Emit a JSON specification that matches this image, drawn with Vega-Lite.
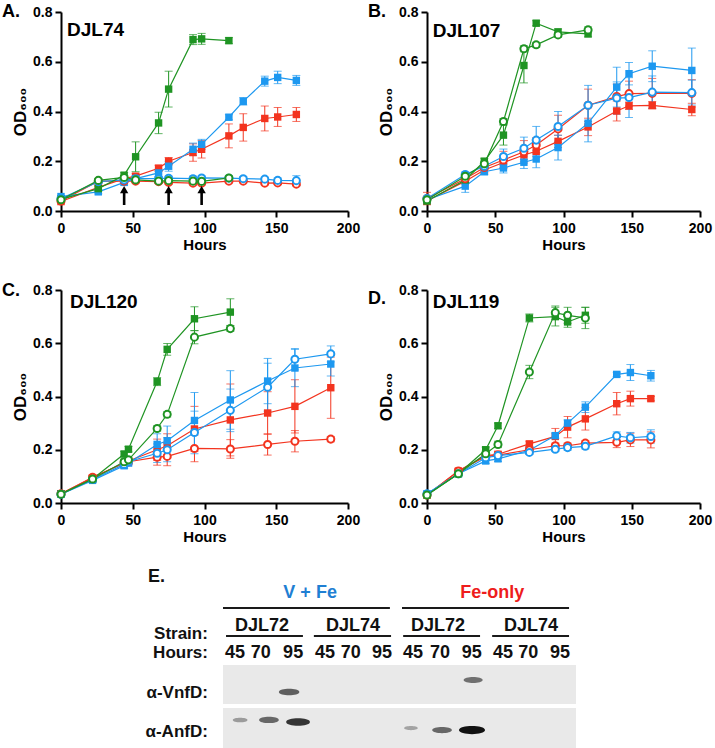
{
"$schema":"https://vega.github.io/schema/vega-lite/v6.json",
"autosize":{"type":"none"},
"padding":{"left":61,"top":12,"right":654,"bottom":736},
"background":"white",
"columns":2,
"bounds":"flush",
"spacing":{"row":79,"column":79},
"datasets":{"growth":[
{"p":"A","m":"Fe-only","s":"DJL72","h":0,"od":0.038,"e":0.005},{"p":"A","m":"Fe-only","s":"DJL72","h":26,"od":0.095,"e":0.01},{"p":"A","m":"Fe-only","s":"DJL72","h":44,"od":0.13,"e":0.01},{"p":"A","m":"Fe-only","s":"DJL72","h":52,"od":0.14,"e":0.01},{"p":"A","m":"Fe-only","s":"DJL72","h":68,"od":0.172,"e":0.012},{"p":"A","m":"Fe-only","s":"DJL72","h":75,"od":0.2,"e":0.015},{"p":"A","m":"Fe-only","s":"DJL72","h":92,"od":0.235,"e":0.035},{"p":"A","m":"Fe-only","s":"DJL72","h":98,"od":0.248,"e":0.035},{"p":"A","m":"Fe-only","s":"DJL72","h":117,"od":0.302,"e":0.048},{"p":"A","m":"Fe-only","s":"DJL72","h":127,"od":0.336,"e":0.055},{"p":"A","m":"Fe-only","s":"DJL72","h":142,"od":0.372,"e":0.05},{"p":"A","m":"Fe-only","s":"DJL72","h":151,"od":0.378,"e":0.038},{"p":"A","m":"Fe-only","s":"DJL72","h":164,"od":0.388,"e":0.028},
{"p":"A","m":"Fe-only","s":"DJL74","h":0,"od":0.04,"e":0.006},{"p":"A","m":"Fe-only","s":"DJL74","h":26,"od":0.12,"e":0.006},{"p":"A","m":"Fe-only","s":"DJL74","h":44,"od":0.12,"e":0.006},{"p":"A","m":"Fe-only","s":"DJL74","h":52,"od":0.12,"e":0.006},{"p":"A","m":"Fe-only","s":"DJL74","h":68,"od":0.118,"e":0.006},{"p":"A","m":"Fe-only","s":"DJL74","h":75,"od":0.115,"e":0.006},{"p":"A","m":"Fe-only","s":"DJL74","h":92,"od":0.112,"e":0.006},{"p":"A","m":"Fe-only","s":"DJL74","h":98,"od":0.112,"e":0.006},{"p":"A","m":"Fe-only","s":"DJL74","h":117,"od":0.12,"e":0.006},{"p":"A","m":"Fe-only","s":"DJL74","h":127,"od":0.12,"e":0.006},{"p":"A","m":"Fe-only","s":"DJL74","h":142,"od":0.112,"e":0.006},{"p":"A","m":"Fe-only","s":"DJL74","h":151,"od":0.113,"e":0.006},{"p":"A","m":"Fe-only","s":"DJL74","h":164,"od":0.108,"e":0.006},
{"p":"A","m":"V + Fe","s":"DJL72","h":0,"od":0.058,"e":0.005},{"p":"A","m":"V + Fe","s":"DJL72","h":26,"od":0.077,"e":0.008},{"p":"A","m":"V + Fe","s":"DJL72","h":44,"od":0.115,"e":0.01},{"p":"A","m":"V + Fe","s":"DJL72","h":52,"od":0.13,"e":0.012},{"p":"A","m":"V + Fe","s":"DJL72","h":68,"od":0.153,"e":0.015},{"p":"A","m":"V + Fe","s":"DJL72","h":75,"od":0.18,"e":0.02},{"p":"A","m":"V + Fe","s":"DJL72","h":92,"od":0.248,"e":0.025},{"p":"A","m":"V + Fe","s":"DJL72","h":98,"od":0.268,"e":0.02},{"p":"A","m":"V + Fe","s":"DJL72","h":117,"od":0.377,"e":0.01},{"p":"A","m":"V + Fe","s":"DJL72","h":127,"od":0.441,"e":0.015},{"p":"A","m":"V + Fe","s":"DJL72","h":142,"od":0.522,"e":0.02},{"p":"A","m":"V + Fe","s":"DJL72","h":151,"od":0.537,"e":0.025},{"p":"A","m":"V + Fe","s":"DJL72","h":164,"od":0.525,"e":0.02},
{"p":"A","m":"V + Fe","s":"DJL74","h":0,"od":0.05,"e":0.005},{"p":"A","m":"V + Fe","s":"DJL74","h":26,"od":0.118,"e":0.006},{"p":"A","m":"V + Fe","s":"DJL74","h":44,"od":0.125,"e":0.008},{"p":"A","m":"V + Fe","s":"DJL74","h":52,"od":0.13,"e":0.01},{"p":"A","m":"V + Fe","s":"DJL74","h":68,"od":0.13,"e":0.008},{"p":"A","m":"V + Fe","s":"DJL74","h":75,"od":0.132,"e":0.008},{"p":"A","m":"V + Fe","s":"DJL74","h":92,"od":0.13,"e":0.01},{"p":"A","m":"V + Fe","s":"DJL74","h":98,"od":0.133,"e":0.008},{"p":"A","m":"V + Fe","s":"DJL74","h":117,"od":0.132,"e":0.008},{"p":"A","m":"V + Fe","s":"DJL74","h":127,"od":0.13,"e":0.008},{"p":"A","m":"V + Fe","s":"DJL74","h":142,"od":0.128,"e":0.008},{"p":"A","m":"V + Fe","s":"DJL74","h":151,"od":0.123,"e":0.01},{"p":"A","m":"V + Fe","s":"DJL74","h":164,"od":0.122,"e":0.02},
{"p":"A","m":"Mo + Fe","s":"DJL72","h":0,"od":0.047,"e":0.005},{"p":"A","m":"Mo + Fe","s":"DJL72","h":26,"od":0.09,"e":0.01},{"p":"A","m":"Mo + Fe","s":"DJL72","h":44,"od":0.144,"e":0.01},{"p":"A","m":"Mo + Fe","s":"DJL72","h":52,"od":0.218,"e":0.06},{"p":"A","m":"Mo + Fe","s":"DJL72","h":68,"od":0.354,"e":0.043},{"p":"A","m":"Mo + Fe","s":"DJL72","h":75,"od":0.49,"e":0.072},{"p":"A","m":"Mo + Fe","s":"DJL72","h":92,"od":0.689,"e":0.02},{"p":"A","m":"Mo + Fe","s":"DJL72","h":98,"od":0.692,"e":0.022},{"p":"A","m":"Mo + Fe","s":"DJL72","h":117,"od":0.685,"e":0.012},
{"p":"A","m":"Mo + Fe","s":"DJL74","h":0,"od":0.045,"e":0.005},{"p":"A","m":"Mo + Fe","s":"DJL74","h":26,"od":0.123,"e":0.008},{"p":"A","m":"Mo + Fe","s":"DJL74","h":44,"od":0.135,"e":0.008},{"p":"A","m":"Mo + Fe","s":"DJL74","h":52,"od":0.125,"e":0.01},{"p":"A","m":"Mo + Fe","s":"DJL74","h":68,"od":0.12,"e":0.008},{"p":"A","m":"Mo + Fe","s":"DJL74","h":75,"od":0.122,"e":0.008},{"p":"A","m":"Mo + Fe","s":"DJL74","h":92,"od":0.12,"e":0.008},{"p":"A","m":"Mo + Fe","s":"DJL74","h":98,"od":0.119,"e":0.008},{"p":"A","m":"Mo + Fe","s":"DJL74","h":117,"od":0.133,"e":0.008},
{"p":"B","m":"Fe-only","s":"DJL72","h":0,"od":0.04,"e":0.008},{"p":"B","m":"Fe-only","s":"DJL72","h":28,"od":0.12,"e":0.01},{"p":"B","m":"Fe-only","s":"DJL72","h":42,"od":0.165,"e":0.012},{"p":"B","m":"Fe-only","s":"DJL72","h":56,"od":0.195,"e":0.02},{"p":"B","m":"Fe-only","s":"DJL72","h":71,"od":0.225,"e":0.025},{"p":"B","m":"Fe-only","s":"DJL72","h":80,"od":0.24,"e":0.02},{"p":"B","m":"Fe-only","s":"DJL72","h":96,"od":0.28,"e":0.025},{"p":"B","m":"Fe-only","s":"DJL72","h":118,"od":0.338,"e":0.035},{"p":"B","m":"Fe-only","s":"DJL72","h":139,"od":0.402,"e":0.04},{"p":"B","m":"Fe-only","s":"DJL72","h":148,"od":0.423,"e":0.015},{"p":"B","m":"Fe-only","s":"DJL72","h":165,"od":0.425,"e":0.015},{"p":"B","m":"Fe-only","s":"DJL72","h":194,"od":0.408,"e":0.025},
{"p":"B","m":"Fe-only","s":"DJL107","h":0,"od":0.05,"e":0.025},{"p":"B","m":"Fe-only","s":"DJL107","h":28,"od":0.13,"e":0.01},{"p":"B","m":"Fe-only","s":"DJL107","h":42,"od":0.175,"e":0.01},{"p":"B","m":"Fe-only","s":"DJL107","h":56,"od":0.205,"e":0.035},{"p":"B","m":"Fe-only","s":"DJL107","h":71,"od":0.238,"e":0.045},{"p":"B","m":"Fe-only","s":"DJL107","h":80,"od":0.265,"e":0.03},{"p":"B","m":"Fe-only","s":"DJL107","h":96,"od":0.33,"e":0.055},{"p":"B","m":"Fe-only","s":"DJL107","h":118,"od":0.425,"e":0.065},{"p":"B","m":"Fe-only","s":"DJL107","h":139,"od":0.46,"e":0.05},{"p":"B","m":"Fe-only","s":"DJL107","h":148,"od":0.472,"e":0.05},{"p":"B","m":"Fe-only","s":"DJL107","h":165,"od":0.473,"e":0.06},{"p":"B","m":"Fe-only","s":"DJL107","h":194,"od":0.473,"e":0.055},
{"p":"B","m":"V + Fe","s":"DJL72","h":0,"od":0.045,"e":0.008},{"p":"B","m":"V + Fe","s":"DJL72","h":28,"od":0.1,"e":0.025},{"p":"B","m":"V + Fe","s":"DJL72","h":42,"od":0.158,"e":0.012},{"p":"B","m":"V + Fe","s":"DJL72","h":56,"od":0.173,"e":0.02},{"p":"B","m":"V + Fe","s":"DJL72","h":71,"od":0.196,"e":0.025},{"p":"B","m":"V + Fe","s":"DJL72","h":80,"od":0.209,"e":0.035},{"p":"B","m":"V + Fe","s":"DJL72","h":96,"od":0.255,"e":0.05},{"p":"B","m":"V + Fe","s":"DJL72","h":118,"od":0.353,"e":0.075},{"p":"B","m":"V + Fe","s":"DJL72","h":139,"od":0.498,"e":0.08},{"p":"B","m":"V + Fe","s":"DJL72","h":148,"od":0.552,"e":0.045},{"p":"B","m":"V + Fe","s":"DJL72","h":165,"od":0.582,"e":0.062},{"p":"B","m":"V + Fe","s":"DJL72","h":194,"od":0.565,"e":0.09},
{"p":"B","m":"V + Fe","s":"DJL107","h":0,"od":0.05,"e":0.005},{"p":"B","m":"V + Fe","s":"DJL107","h":28,"od":0.147,"e":0.01},{"p":"B","m":"V + Fe","s":"DJL107","h":42,"od":0.18,"e":0.01},{"p":"B","m":"V + Fe","s":"DJL107","h":56,"od":0.219,"e":0.03},{"p":"B","m":"V + Fe","s":"DJL107","h":71,"od":0.252,"e":0.045},{"p":"B","m":"V + Fe","s":"DJL107","h":80,"od":0.285,"e":0.055},{"p":"B","m":"V + Fe","s":"DJL107","h":96,"od":0.34,"e":0.06},{"p":"B","m":"V + Fe","s":"DJL107","h":118,"od":0.425,"e":0.08},{"p":"B","m":"V + Fe","s":"DJL107","h":139,"od":0.454,"e":0.065},{"p":"B","m":"V + Fe","s":"DJL107","h":148,"od":0.456,"e":0.08},{"p":"B","m":"V + Fe","s":"DJL107","h":165,"od":0.478,"e":0.065},{"p":"B","m":"V + Fe","s":"DJL107","h":194,"od":0.476,"e":0.05},
{"p":"B","m":"Mo + Fe","s":"DJL72","h":0,"od":0.04,"e":0.005},{"p":"B","m":"Mo + Fe","s":"DJL72","h":28,"od":0.125,"e":0.01},{"p":"B","m":"Mo + Fe","s":"DJL72","h":42,"od":0.2,"e":0.012},{"p":"B","m":"Mo + Fe","s":"DJL72","h":56,"od":0.305,"e":0.04},{"p":"B","m":"Mo + Fe","s":"DJL72","h":71,"od":0.585,"e":0.07},{"p":"B","m":"Mo + Fe","s":"DJL72","h":80,"od":0.755,"e":0.01},{"p":"B","m":"Mo + Fe","s":"DJL72","h":96,"od":0.72,"e":0.012},{"p":"B","m":"Mo + Fe","s":"DJL72","h":118,"od":0.712,"e":0.012},
{"p":"B","m":"Mo + Fe","s":"DJL107","h":0,"od":0.045,"e":0.005},{"p":"B","m":"Mo + Fe","s":"DJL107","h":28,"od":0.14,"e":0.01},{"p":"B","m":"Mo + Fe","s":"DJL107","h":42,"od":0.19,"e":0.01},{"p":"B","m":"Mo + Fe","s":"DJL107","h":56,"od":0.36,"e":0.012},{"p":"B","m":"Mo + Fe","s":"DJL107","h":71,"od":0.652,"e":0.012},{"p":"B","m":"Mo + Fe","s":"DJL107","h":80,"od":0.668,"e":0.01},{"p":"B","m":"Mo + Fe","s":"DJL107","h":96,"od":0.708,"e":0.01},{"p":"B","m":"Mo + Fe","s":"DJL107","h":118,"od":0.728,"e":0.012},
{"p":"C","m":"Fe-only","s":"DJL72","h":0,"od":0.035,"e":0.004},{"p":"C","m":"Fe-only","s":"DJL72","h":22,"od":0.095,"e":0.008},{"p":"C","m":"Fe-only","s":"DJL72","h":44,"od":0.15,"e":0.01},{"p":"C","m":"Fe-only","s":"DJL72","h":47,"od":0.158,"e":0.01},{"p":"C","m":"Fe-only","s":"DJL72","h":67,"od":0.2,"e":0.04},{"p":"C","m":"Fe-only","s":"DJL72","h":74,"od":0.215,"e":0.045},{"p":"C","m":"Fe-only","s":"DJL72","h":93,"od":0.278,"e":0.085},{"p":"C","m":"Fe-only","s":"DJL72","h":118,"od":0.312,"e":0.135},{"p":"C","m":"Fe-only","s":"DJL72","h":144,"od":0.338,"e":0.08},{"p":"C","m":"Fe-only","s":"DJL72","h":163,"od":0.363,"e":0.1},{"p":"C","m":"Fe-only","s":"DJL72","h":188,"od":0.433,"e":0.115},
{"p":"C","m":"Fe-only","s":"DJL120","h":0,"od":0.035,"e":0.004},{"p":"C","m":"Fe-only","s":"DJL120","h":22,"od":0.097,"e":0.008},{"p":"C","m":"Fe-only","s":"DJL120","h":44,"od":0.15,"e":0.01},{"p":"C","m":"Fe-only","s":"DJL120","h":47,"od":0.155,"e":0.01},{"p":"C","m":"Fe-only","s":"DJL120","h":67,"od":0.172,"e":0.03},{"p":"C","m":"Fe-only","s":"DJL120","h":74,"od":0.175,"e":0.035},{"p":"C","m":"Fe-only","s":"DJL120","h":93,"od":0.205,"e":0.05},{"p":"C","m":"Fe-only","s":"DJL120","h":118,"od":0.203,"e":0.035},{"p":"C","m":"Fe-only","s":"DJL120","h":144,"od":0.22,"e":0.04},{"p":"C","m":"Fe-only","s":"DJL120","h":163,"od":0.232,"e":0.04},{"p":"C","m":"Fe-only","s":"DJL120","h":188,"od":0.24,"e":0.01},
{"p":"C","m":"V + Fe","s":"DJL72","h":0,"od":0.033,"e":0.004},{"p":"C","m":"V + Fe","s":"DJL72","h":22,"od":0.085,"e":0.008},{"p":"C","m":"V + Fe","s":"DJL72","h":44,"od":0.14,"e":0.01},{"p":"C","m":"V + Fe","s":"DJL72","h":47,"od":0.15,"e":0.01},{"p":"C","m":"V + Fe","s":"DJL72","h":67,"od":0.22,"e":0.04},{"p":"C","m":"V + Fe","s":"DJL72","h":74,"od":0.234,"e":0.055},{"p":"C","m":"V + Fe","s":"DJL72","h":93,"od":0.31,"e":0.105},{"p":"C","m":"V + Fe","s":"DJL72","h":118,"od":0.387,"e":0.11},{"p":"C","m":"V + Fe","s":"DJL72","h":144,"od":0.458,"e":0.085},{"p":"C","m":"V + Fe","s":"DJL72","h":163,"od":0.507,"e":0.07},{"p":"C","m":"V + Fe","s":"DJL72","h":188,"od":0.522,"e":0.045},
{"p":"C","m":"V + Fe","s":"DJL120","h":0,"od":0.033,"e":0.004},{"p":"C","m":"V + Fe","s":"DJL120","h":22,"od":0.088,"e":0.008},{"p":"C","m":"V + Fe","s":"DJL120","h":44,"od":0.145,"e":0.01},{"p":"C","m":"V + Fe","s":"DJL120","h":47,"od":0.155,"e":0.01},{"p":"C","m":"V + Fe","s":"DJL120","h":67,"od":0.187,"e":0.035},{"p":"C","m":"V + Fe","s":"DJL120","h":74,"od":0.2,"e":0.045},{"p":"C","m":"V + Fe","s":"DJL120","h":93,"od":0.265,"e":0.08},{"p":"C","m":"V + Fe","s":"DJL120","h":118,"od":0.348,"e":0.08},{"p":"C","m":"V + Fe","s":"DJL120","h":144,"od":0.435,"e":0.09},{"p":"C","m":"V + Fe","s":"DJL120","h":163,"od":0.54,"e":0.04},{"p":"C","m":"V + Fe","s":"DJL120","h":188,"od":0.56,"e":0.03},
{"p":"C","m":"Mo + Fe","s":"DJL72","h":0,"od":0.035,"e":0.004},{"p":"C","m":"Mo + Fe","s":"DJL72","h":22,"od":0.09,"e":0.008},{"p":"C","m":"Mo + Fe","s":"DJL72","h":44,"od":0.184,"e":0.01},{"p":"C","m":"Mo + Fe","s":"DJL72","h":47,"od":0.202,"e":0.01},{"p":"C","m":"Mo + Fe","s":"DJL72","h":67,"od":0.456,"e":0.015},{"p":"C","m":"Mo + Fe","s":"DJL72","h":74,"od":0.577,"e":0.022},{"p":"C","m":"Mo + Fe","s":"DJL72","h":93,"od":0.692,"e":0.045},{"p":"C","m":"Mo + Fe","s":"DJL72","h":118,"od":0.717,"e":0.05},
{"p":"C","m":"Mo + Fe","s":"DJL120","h":0,"od":0.033,"e":0.004},{"p":"C","m":"Mo + Fe","s":"DJL120","h":22,"od":0.09,"e":0.008},{"p":"C","m":"Mo + Fe","s":"DJL120","h":44,"od":0.155,"e":0.01},{"p":"C","m":"Mo + Fe","s":"DJL120","h":47,"od":0.162,"e":0.01},{"p":"C","m":"Mo + Fe","s":"DJL120","h":67,"od":0.28,"e":0.01},{"p":"C","m":"Mo + Fe","s":"DJL120","h":74,"od":0.333,"e":0.01},{"p":"C","m":"Mo + Fe","s":"DJL120","h":93,"od":0.623,"e":0.025},{"p":"C","m":"Mo + Fe","s":"DJL120","h":118,"od":0.655,"e":0.01},
{"p":"D","m":"Fe-only","s":"DJL72","h":0,"od":0.03,"e":0.004},{"p":"D","m":"Fe-only","s":"DJL72","h":23,"od":0.12,"e":0.008},{"p":"D","m":"Fe-only","s":"DJL72","h":43,"od":0.178,"e":0.01},{"p":"D","m":"Fe-only","s":"DJL72","h":52,"od":0.183,"e":0.01},{"p":"D","m":"Fe-only","s":"DJL72","h":75,"od":0.222,"e":0.01},{"p":"D","m":"Fe-only","s":"DJL72","h":94,"od":0.25,"e":0.03},{"p":"D","m":"Fe-only","s":"DJL72","h":103,"od":0.285,"e":0.04},{"p":"D","m":"Fe-only","s":"DJL72","h":116,"od":0.316,"e":0.042},{"p":"D","m":"Fe-only","s":"DJL72","h":139,"od":0.373,"e":0.042},{"p":"D","m":"Fe-only","s":"DJL72","h":149,"od":0.392,"e":0.028},{"p":"D","m":"Fe-only","s":"DJL72","h":164,"od":0.392,"e":0.008},
{"p":"D","m":"Fe-only","s":"DJL119","h":0,"od":0.03,"e":0.004},{"p":"D","m":"Fe-only","s":"DJL119","h":23,"od":0.12,"e":0.008},{"p":"D","m":"Fe-only","s":"DJL119","h":43,"od":0.175,"e":0.01},{"p":"D","m":"Fe-only","s":"DJL119","h":52,"od":0.18,"e":0.01},{"p":"D","m":"Fe-only","s":"DJL119","h":75,"od":0.2,"e":0.01},{"p":"D","m":"Fe-only","s":"DJL119","h":94,"od":0.215,"e":0.01},{"p":"D","m":"Fe-only","s":"DJL119","h":103,"od":0.215,"e":0.01},{"p":"D","m":"Fe-only","s":"DJL119","h":116,"od":0.225,"e":0.01},{"p":"D","m":"Fe-only","s":"DJL119","h":139,"od":0.228,"e":0.02},{"p":"D","m":"Fe-only","s":"DJL119","h":149,"od":0.237,"e":0.025},{"p":"D","m":"Fe-only","s":"DJL119","h":164,"od":0.237,"e":0.03},
{"p":"D","m":"V + Fe","s":"DJL72","h":0,"od":0.035,"e":0.004},{"p":"D","m":"V + Fe","s":"DJL72","h":23,"od":0.11,"e":0.008},{"p":"D","m":"V + Fe","s":"DJL72","h":43,"od":0.158,"e":0.01},{"p":"D","m":"V + Fe","s":"DJL72","h":52,"od":0.166,"e":0.01},{"p":"D","m":"V + Fe","s":"DJL72","h":75,"od":0.198,"e":0.01},{"p":"D","m":"V + Fe","s":"DJL72","h":94,"od":0.253,"e":0.01},{"p":"D","m":"V + Fe","s":"DJL72","h":103,"od":0.3,"e":0.012},{"p":"D","m":"V + Fe","s":"DJL72","h":116,"od":0.36,"e":0.02},{"p":"D","m":"V + Fe","s":"DJL72","h":139,"od":0.483,"e":0.008},{"p":"D","m":"V + Fe","s":"DJL72","h":149,"od":0.49,"e":0.03},{"p":"D","m":"V + Fe","s":"DJL72","h":164,"od":0.478,"e":0.02},
{"p":"D","m":"V + Fe","s":"DJL119","h":0,"od":0.035,"e":0.004},{"p":"D","m":"V + Fe","s":"DJL119","h":23,"od":0.11,"e":0.008},{"p":"D","m":"V + Fe","s":"DJL119","h":43,"od":0.17,"e":0.01},{"p":"D","m":"V + Fe","s":"DJL119","h":52,"od":0.178,"e":0.01},{"p":"D","m":"V + Fe","s":"DJL119","h":75,"od":0.19,"e":0.008},{"p":"D","m":"V + Fe","s":"DJL119","h":94,"od":0.202,"e":0.008},{"p":"D","m":"V + Fe","s":"DJL119","h":103,"od":0.208,"e":0.01},{"p":"D","m":"V + Fe","s":"DJL119","h":116,"od":0.213,"e":0.01},{"p":"D","m":"V + Fe","s":"DJL119","h":139,"od":0.252,"e":0.015},{"p":"D","m":"V + Fe","s":"DJL119","h":149,"od":0.245,"e":0.02},{"p":"D","m":"V + Fe","s":"DJL119","h":164,"od":0.25,"e":0.025},
{"p":"D","m":"Mo + Fe","s":"DJL72","h":0,"od":0.03,"e":0.004},{"p":"D","m":"Mo + Fe","s":"DJL72","h":23,"od":0.11,"e":0.008},{"p":"D","m":"Mo + Fe","s":"DJL72","h":43,"od":0.2,"e":0.01},{"p":"D","m":"Mo + Fe","s":"DJL72","h":52,"od":0.29,"e":0.01},{"p":"D","m":"Mo + Fe","s":"DJL72","h":75,"od":0.695,"e":0.015},{"p":"D","m":"Mo + Fe","s":"DJL72","h":94,"od":0.7,"e":0.035},{"p":"D","m":"Mo + Fe","s":"DJL72","h":103,"od":0.68,"e":0.02},{"p":"D","m":"Mo + Fe","s":"DJL72","h":116,"od":0.705,"e":0.03},
{"p":"D","m":"Mo + Fe","s":"DJL119","h":0,"od":0.03,"e":0.004},{"p":"D","m":"Mo + Fe","s":"DJL119","h":23,"od":0.11,"e":0.008},{"p":"D","m":"Mo + Fe","s":"DJL119","h":43,"od":0.185,"e":0.01},{"p":"D","m":"Mo + Fe","s":"DJL119","h":52,"od":0.22,"e":0.012},{"p":"D","m":"Mo + Fe","s":"DJL119","h":75,"od":0.492,"e":0.025},{"p":"D","m":"Mo + Fe","s":"DJL119","h":94,"od":0.715,"e":0.025},{"p":"D","m":"Mo + Fe","s":"DJL119","h":103,"od":0.705,"e":0.03},{"p":"D","m":"Mo + Fe","s":"DJL119","h":116,"od":0.695,"e":0.04}
]},
"concat":[
{"width":287,"height":199,
 "layer":[
  {"data":{"name":"growth"},"transform":[{"filter":"datum.p==='A'"}],"mark":{"type":"errorbar","ticks":{"size":8},"thickness":1},
   "encoding":{"x":{"field":"h","type":"quantitative","title":"Hours","scale":{"domain":[0,200]},"axis":{"values":[0,50,100,150,200]}},"y":{"field":"od","type":"quantitative","title":"OD₆₀₀","scale":{"domain":[0,0.8]},"axis":{"values":[0,0.2,0.4,0.6,0.8],"format":".1f"}},"yError":{"field":"e"},"color":{"field":"m","type":"nominal","scale":{"domain":["Mo + Fe","V + Fe","Fe-only"],"range":["#1f9423","#1d98f0","#f3341f"]},"legend":null}}},
  {"data":{"name":"growth"},"transform":[{"filter":"datum.p==='A'"}],"mark":{"type":"line","strokeWidth":1.2},"encoding":{"x":{"field":"h","type":"quantitative","title":"Hours"},"y":{"field":"od","type":"quantitative","title":"OD₆₀₀"},"color":{"field":"m","type":"nominal","legend":null},"detail":{"field":"s"}}},
  {"data":{"name":"growth"},"transform":[{"filter":"datum.p==='A' && datum.s==='DJL72'"}],"mark":{"type":"point","shape":"square","filled":true,"size":55,"opacity":1},"encoding":{"x":{"field":"h","type":"quantitative","title":"Hours"},"y":{"field":"od","type":"quantitative","title":"OD₆₀₀"},"color":{"field":"m","type":"nominal","legend":null}}},
  {"data":{"name":"growth"},"transform":[{"filter":"datum.p==='A' && datum.s!=='DJL72'"}],"mark":{"type":"point","shape":"circle","filled":false,"fill":"white","fillOpacity":1,"size":50,"strokeWidth":2,"opacity":1},"encoding":{"x":{"field":"h","type":"quantitative","title":"Hours"},"y":{"field":"od","type":"quantitative","title":"OD₆₀₀"},"color":{"field":"m","type":"nominal","legend":null}}},
  {"data":{"values":[{"h":44},{"h":75},{"h":98}]},"mark":{"type":"rule","strokeWidth":2.6,"color":"black"},"encoding":{"x":{"field":"h","type":"quantitative","title":"Hours"},"y":{"datum":0.024,"type":"quantitative"},"y2":{"datum":0.078}}},
  {"data":{"values":[{"h":44},{"h":75},{"h":98}]},"mark":{"type":"point","shape":"triangle-up","filled":true,"size":70,"opacity":1,"color":"black"},"encoding":{"x":{"field":"h","type":"quantitative","title":"Hours"},"y":{"datum":0.086,"type":"quantitative"}}},
  {"data":{"values":[{}]},"mark":{"type":"text","font":"Liberation Sans","fontWeight":"bold","fontSize":19,"align":"left","baseline":"middle","color":"black"},"encoding":{"x":{"datum":4.2,"type":"quantitative"},"y":{"datum":0.727,"type":"quantitative"},"text":{"value":"DJL74"}}},
  {"data":{"values":[{}]},"mark":{"type":"text","font":"Liberation Sans","fontWeight":"bold","fontSize":18,"align":"left","baseline":"middle","color":"black"},"encoding":{"x":{"datum":-41.1,"type":"quantitative"},"y":{"datum":0.8,"type":"quantitative"},"text":{"value":"A."}}}
 ]},
{"width":273,"height":199,
 "layer":[
  {"data":{"name":"growth"},"transform":[{"filter":"datum.p==='B'"}],"mark":{"type":"errorbar","ticks":{"size":8},"thickness":1},
   "encoding":{"x":{"field":"h","type":"quantitative","title":"Hours","scale":{"domain":[0,200]},"axis":{"values":[0,50,100,150,200]}},"y":{"field":"od","type":"quantitative","title":"OD₆₀₀","scale":{"domain":[0,0.8]},"axis":{"values":[0,0.2,0.4,0.6,0.8],"format":".1f"}},"yError":{"field":"e"},"color":{"field":"m","type":"nominal","scale":{"domain":["Mo + Fe","V + Fe","Fe-only"],"range":["#1f9423","#1d98f0","#f3341f"]},"legend":null}}},
  {"data":{"name":"growth"},"transform":[{"filter":"datum.p==='B'"}],"mark":{"type":"line","strokeWidth":1.2},"encoding":{"x":{"field":"h","type":"quantitative","title":"Hours"},"y":{"field":"od","type":"quantitative","title":"OD₆₀₀"},"color":{"field":"m","type":"nominal","legend":null},"detail":{"field":"s"}}},
  {"data":{"name":"growth"},"transform":[{"filter":"datum.p==='B' && datum.s==='DJL72'"}],"mark":{"type":"point","shape":"square","filled":true,"size":55,"opacity":1},"encoding":{"x":{"field":"h","type":"quantitative","title":"Hours"},"y":{"field":"od","type":"quantitative","title":"OD₆₀₀"},"color":{"field":"m","type":"nominal","legend":null}}},
  {"data":{"name":"growth"},"transform":[{"filter":"datum.p==='B' && datum.s!=='DJL72'"}],"mark":{"type":"point","shape":"circle","filled":false,"fill":"white","fillOpacity":1,"size":50,"strokeWidth":2,"opacity":1},"encoding":{"x":{"field":"h","type":"quantitative","title":"Hours"},"y":{"field":"od","type":"quantitative","title":"OD₆₀₀"},"color":{"field":"m","type":"nominal","legend":null}}},
  {"data":{"values":[{}]},"mark":{"type":"text","font":"Liberation Sans","fontWeight":"bold","fontSize":19,"align":"left","baseline":"middle","color":"black"},"encoding":{"x":{"datum":4.2,"type":"quantitative"},"y":{"datum":0.725,"type":"quantitative"},"text":{"value":"DJL107"}}},
  {"data":{"values":[{}]},"mark":{"type":"text","font":"Liberation Sans","fontWeight":"bold","fontSize":18,"align":"left","baseline":"middle","color":"black"},"encoding":{"x":{"datum":-43.2,"type":"quantitative"},"y":{"datum":0.8,"type":"quantitative"},"text":{"value":"B."}}}
 ]},
{"width":287,"height":213,
 "layer":[
  {"data":{"name":"growth"},"transform":[{"filter":"datum.p==='C'"}],"mark":{"type":"errorbar","ticks":{"size":8},"thickness":1},
   "encoding":{"x":{"field":"h","type":"quantitative","title":"Hours","scale":{"domain":[0,200]},"axis":{"values":[0,50,100,150,200]}},"y":{"field":"od","type":"quantitative","title":"OD₆₀₀","scale":{"domain":[0,0.8]},"axis":{"values":[0,0.2,0.4,0.6,0.8],"format":".1f"}},"yError":{"field":"e"},"color":{"field":"m","type":"nominal","scale":{"domain":["Mo + Fe","V + Fe","Fe-only"],"range":["#1f9423","#1d98f0","#f3341f"]},"legend":null}}},
  {"data":{"name":"growth"},"transform":[{"filter":"datum.p==='C'"}],"mark":{"type":"line","strokeWidth":1.2},"encoding":{"x":{"field":"h","type":"quantitative","title":"Hours"},"y":{"field":"od","type":"quantitative","title":"OD₆₀₀"},"color":{"field":"m","type":"nominal","legend":null},"detail":{"field":"s"}}},
  {"data":{"name":"growth"},"transform":[{"filter":"datum.p==='C' && datum.s==='DJL72'"}],"mark":{"type":"point","shape":"square","filled":true,"size":55,"opacity":1},"encoding":{"x":{"field":"h","type":"quantitative","title":"Hours"},"y":{"field":"od","type":"quantitative","title":"OD₆₀₀"},"color":{"field":"m","type":"nominal","legend":null}}},
  {"data":{"name":"growth"},"transform":[{"filter":"datum.p==='C' && datum.s!=='DJL72'"}],"mark":{"type":"point","shape":"circle","filled":false,"fill":"white","fillOpacity":1,"size":50,"strokeWidth":2,"opacity":1},"encoding":{"x":{"field":"h","type":"quantitative","title":"Hours"},"y":{"field":"od","type":"quantitative","title":"OD₆₀₀"},"color":{"field":"m","type":"nominal","legend":null}}},
  {"data":{"values":[{}]},"mark":{"type":"text","font":"Liberation Sans","fontWeight":"bold","fontSize":19,"align":"left","baseline":"middle","color":"black"},"encoding":{"x":{"datum":6.3,"type":"quantitative"},"y":{"datum":0.756,"type":"quantitative"},"text":{"value":"DJL120"}}},
  {"data":{"values":[{}]},"mark":{"type":"text","font":"Liberation Sans","fontWeight":"bold","fontSize":18,"align":"left","baseline":"middle","color":"black"},"encoding":{"x":{"datum":-41.1,"type":"quantitative"},"y":{"datum":0.795,"type":"quantitative"},"text":{"value":"C."}}}
 ]},
{"width":273,"height":213,
 "layer":[
  {"data":{"name":"growth"},"transform":[{"filter":"datum.p==='D'"}],"mark":{"type":"errorbar","ticks":{"size":8},"thickness":1},
   "encoding":{"x":{"field":"h","type":"quantitative","title":"Hours","scale":{"domain":[0,200]},"axis":{"values":[0,50,100,150,200]}},"y":{"field":"od","type":"quantitative","title":"OD₆₀₀","scale":{"domain":[0,0.8]},"axis":{"values":[0,0.2,0.4,0.6,0.8],"format":".1f"}},"yError":{"field":"e"},"color":{"field":"m","type":"nominal","scale":{"domain":["Mo + Fe","V + Fe","Fe-only"],"range":["#1f9423","#1d98f0","#f3341f"]},"legend":null}}},
  {"data":{"name":"growth"},"transform":[{"filter":"datum.p==='D'"}],"mark":{"type":"line","strokeWidth":1.2},"encoding":{"x":{"field":"h","type":"quantitative","title":"Hours"},"y":{"field":"od","type":"quantitative","title":"OD₆₀₀"},"color":{"field":"m","type":"nominal","legend":null},"detail":{"field":"s"}}},
  {"data":{"name":"growth"},"transform":[{"filter":"datum.p==='D' && datum.s==='DJL72'"}],"mark":{"type":"point","shape":"square","filled":true,"size":55,"opacity":1},"encoding":{"x":{"field":"h","type":"quantitative","title":"Hours"},"y":{"field":"od","type":"quantitative","title":"OD₆₀₀"},"color":{"field":"m","type":"nominal","legend":null}}},
  {"data":{"name":"growth"},"transform":[{"filter":"datum.p==='D' && datum.s!=='DJL72'"}],"mark":{"type":"point","shape":"circle","filled":false,"fill":"white","fillOpacity":1,"size":50,"strokeWidth":2,"opacity":1},"encoding":{"x":{"field":"h","type":"quantitative","title":"Hours"},"y":{"field":"od","type":"quantitative","title":"OD₆₀₀"},"color":{"field":"m","type":"nominal","legend":null}}},
  {"data":{"values":[{}]},"mark":{"type":"text","font":"Liberation Sans","fontWeight":"bold","fontSize":19,"align":"left","baseline":"middle","color":"black"},"encoding":{"x":{"datum":4.2,"type":"quantitative"},"y":{"datum":0.755,"type":"quantitative"},"text":{"value":"DJL119"}}},
  {"data":{"values":[{}]},"mark":{"type":"text","font":"Liberation Sans","fontWeight":"bold","fontSize":18,"align":"left","baseline":"middle","color":"black"},"encoding":{"x":{"datum":-43.2,"type":"quantitative"},"y":{"datum":0.766,"type":"quantitative"},"text":{"value":"D."}}}
 ]},
{"width":287,"height":166,
 "layer":[
  {"data":{"values":[{"blot":"α-VnfD","u":0.375,"u2":12.63,"v":5.0,"v2":7.35},{"blot":"α-AnfD","u":0.375,"u2":12.63,"v":7.59,"v2":10}]},"mark":{"type":"rect","fill":"#e9e9e9"},
   "encoding":{"x":{"field":"u","type":"quantitative","scale":{"domain":[-5.25,4.715],"nice":false,"zero":false},"axis":null},"x2":{"field":"u2"},"y":{"field":"v","type":"quantitative","scale":{"domain":[0,10],"nice":false,"zero":false,"reverse":true},"axis":null},"y2":{"field":"v2"}}},
  {"data":{"values":[
    {"ab":"α-VnfD","medium":"V + Fe","strain":"DJL72","hours":95,"u":2.67,"v":6.63,"intensity":0.55},
    {"ab":"α-VnfD","medium":"Fe-only","strain":"DJL72","hours":95,"u":9.06,"v":5.9,"intensity":0.45},
    {"ab":"α-AnfD","medium":"V + Fe","strain":"DJL72","hours":45,"u":0.97,"v":8.31,"intensity":0.2},
    {"ab":"α-AnfD","medium":"V + Fe","strain":"DJL72","hours":70,"u":1.97,"v":8.31,"intensity":0.5},
    {"ab":"α-AnfD","medium":"V + Fe","strain":"DJL72","hours":95,"u":2.98,"v":8.43,"intensity":0.8},
    {"ab":"α-AnfD","medium":"Fe-only","strain":"DJL72","hours":45,"u":6.9,"v":8.8,"intensity":0.15},
    {"ab":"α-AnfD","medium":"Fe-only","strain":"DJL72","hours":70,"u":7.98,"v":8.92,"intensity":0.5},
    {"ab":"α-AnfD","medium":"Fe-only","strain":"DJL72","hours":95,"u":9.02,"v":8.92,"intensity":1.0}]},
   "mark":{"type":"point","shape":"M-1,0C-1,-0.42,1,-0.42,1,0C1,0.42,-1,0.42,-1,0Z","filled":true,"color":"#111111"},
   "encoding":{"x":{"field":"u","type":"quantitative","axis":null},"y":{"field":"v","type":"quantitative","axis":null},"size":{"field":"intensity","type":"quantitative","scale":{"domain":[0,1],"range":[100,680]},"legend":null},"opacity":{"field":"intensity","type":"quantitative","scale":{"domain":[0,1],"range":[0.2,1]},"legend":null}}},
  {"data":{"values":[
    {"tier":"medium","label":"V + Fe","u":0.375,"u2":6.17,"v":1.57},
    {"tier":"medium","label":"Fe-only","u":6.59,"u2":12.39,"v":1.57},
    {"tier":"strain","label":"DJL72 V + Fe","u":0.48,"u2":3.15,"v":3.25},
    {"tier":"strain","label":"DJL74 V + Fe","u":3.53,"u2":6.21,"v":3.25},
    {"tier":"strain","label":"DJL72 Fe-only","u":6.63,"u2":9.3,"v":3.25},
    {"tier":"strain","label":"DJL74 Fe-only","u":9.72,"u2":12.39,"v":3.25}]},
   "mark":{"type":"rule","strokeWidth":2,"color":"#1a1a1a"},"encoding":{"x":{"field":"u","type":"quantitative","axis":null},"x2":{"field":"u2"},"y":{"field":"v","type":"quantitative","axis":null}}},
  {"data":{"values":[{"strain":"DJL72","u":1.73,"v":2.65},{"strain":"DJL74","u":4.89,"v":2.65},{"strain":"DJL72","u":7.84,"v":2.65},{"strain":"DJL74","u":11.07,"v":2.65}]},
   "mark":{"type":"text","font":"Liberation Sans","fontWeight":"bold","fontSize":18,"align":"center","baseline":"middle","color":"#111"},
   "encoding":{"x":{"field":"u","type":"quantitative","axis":null},"y":{"field":"v","type":"quantitative","axis":null},"text":{"field":"strain"}}},
  {"data":{"values":[
    {"hours":"45","u":0.79,"v":4.3},{"hours":"70","u":1.69,"v":4.3},{"hours":"95","u":2.81,"v":4.3},
    {"hours":"45","u":3.92,"v":4.3},{"hours":"70","u":4.81,"v":4.3},{"hours":"95","u":5.9,"v":4.3},
    {"hours":"45","u":6.97,"v":4.3},{"hours":"70","u":7.91,"v":4.3},{"hours":"95","u":9.01,"v":4.3},
    {"hours":"45","u":10.1,"v":4.3},{"hours":"70","u":10.97,"v":4.3},{"hours":"95","u":12.08,"v":4.3}]},
   "mark":{"type":"text","font":"Liberation Sans","fontWeight":"bold","fontSize":18,"align":"center","baseline":"middle","color":"#111"},
   "encoding":{"x":{"field":"u","type":"quantitative","axis":null},"y":{"field":"v","type":"quantitative","axis":null},"text":{"field":"hours"}}},
  {"data":{"values":[{"label":"Strain:","u":-0.15,"v":3.12},{"label":"Hours:","u":-0.15,"v":4.3},{"label":"α-VnfD:","u":-0.15,"v":6.69},{"label":"α-AnfD:","u":-0.15,"v":9.04}]},
   "mark":{"type":"text","font":"Liberation Sans","fontWeight":"bold","fontSize":17,"align":"right","baseline":"middle","color":"#111"},
   "encoding":{"x":{"field":"u","type":"quantitative","axis":null},"y":{"field":"v","type":"quantitative","axis":null},"text":{"field":"label"}}},
  {"data":{"values":[{}]},"mark":{"type":"text","font":"Liberation Sans","fontWeight":"bold","fontSize":18,"align":"center","baseline":"middle","color":"#1f7fd3"},"encoding":{"x":{"datum":3.4,"type":"quantitative","axis":null},"y":{"datum":0.66,"type":"quantitative","axis":null},"text":{"value":"V + Fe"}}},
  {"data":{"values":[{}]},"mark":{"type":"text","font":"Liberation Sans","fontWeight":"bold","fontSize":18,"align":"center","baseline":"middle","color":"#ee1c1c"},"encoding":{"x":{"datum":9.72,"type":"quantitative","axis":null},"y":{"datum":0.66,"type":"quantitative","axis":null},"text":{"value":"Fe-only"}}},
  {"data":{"values":[{}]},"mark":{"type":"text","font":"Liberation Sans","fontWeight":"bold","fontSize":18,"align":"left","baseline":"middle","color":"#111"},"encoding":{"x":{"datum":-2.23,"type":"quantitative","axis":null},"y":{"datum":-0.3,"type":"quantitative","axis":null},"text":{"value":"E."}}}
 ]}
],
"config":{
 "font":"Liberation Sans",
 "view":{"stroke":null},
 "axis":{"grid":false,"domainColor":"#000","domainWidth":2,"tickColor":"#000","tickWidth":2,"tickSize":6,"labelFont":"Liberation Sans","labelFontWeight":"bold","labelFontSize":14,"labelColor":"#000","labelFlush":false,"labelPadding":3,"titleFont":"Liberation Sans","titleFontWeight":"bold","titleColor":"#000"},
 "axisX":{"titleFontSize":15,"titlePadding":2,"labelPadding":4},
 "axisY":{"titleFontSize":17,"titlePadding":3}
}
}
